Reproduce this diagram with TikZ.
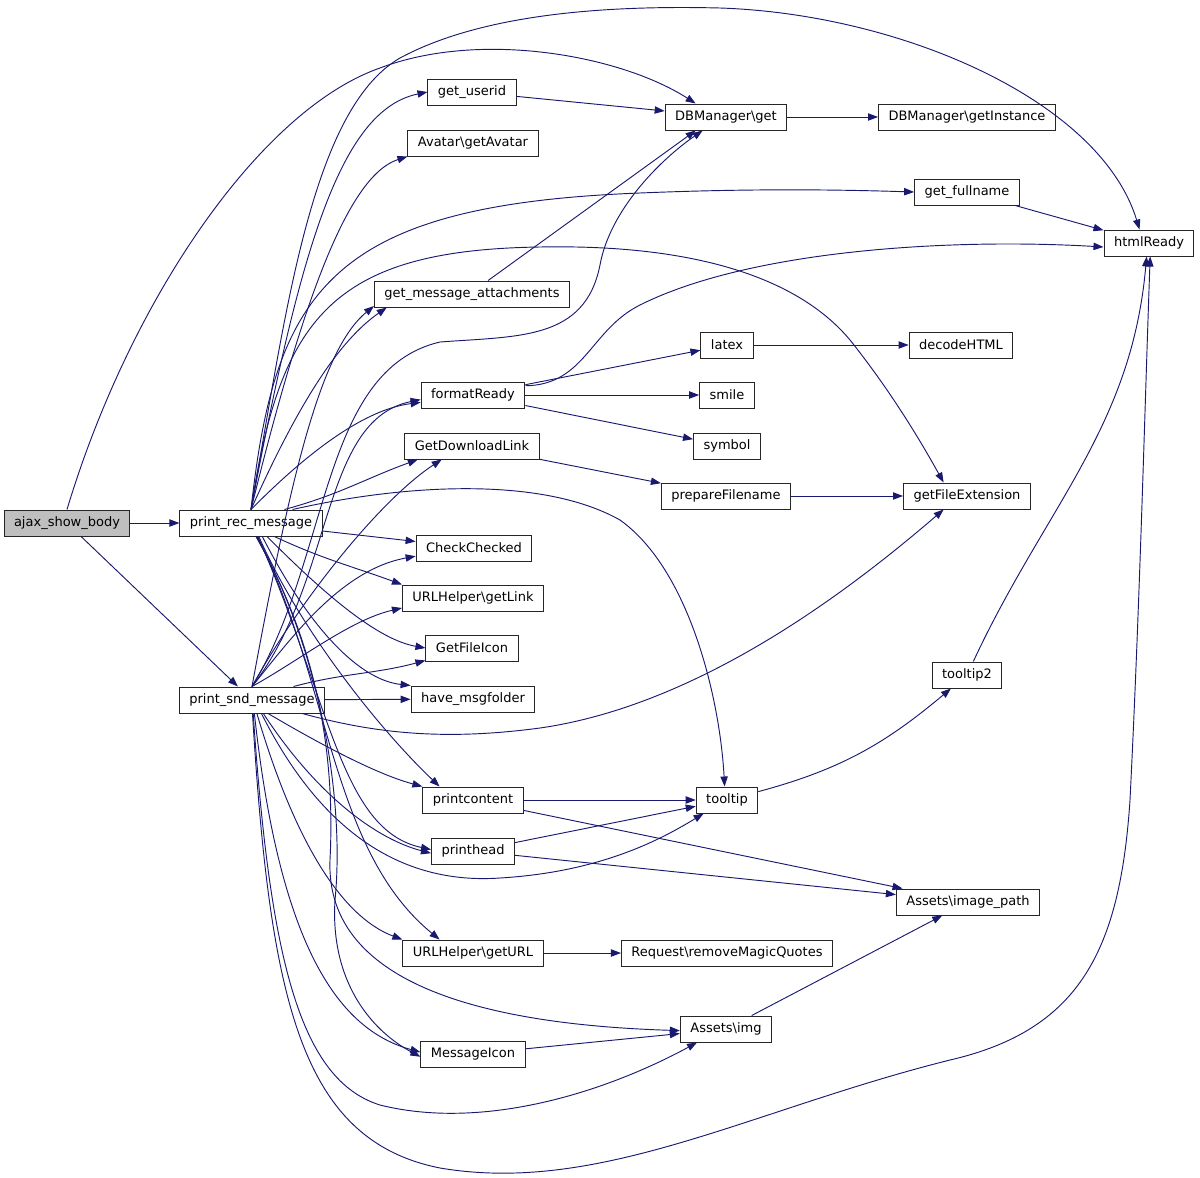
\documentclass[tikz,border=0pt]{standalone}
\usepackage{fontspec}
\setmainfont{DejaVu Sans}
\usetikzlibrary{arrows.meta}
\definecolor{callblue}{RGB}{25,25,112}
\tikzset{func/.style = {shape=rectangle,draw=black!85,line width=0.75pt,minimum height=19.5pt,inner xsep=7.5pt,inner ysep=0pt,font=\fontsize{9.75}{11}\selectfont}}
\tikzset{call/.style = {-{Triangle[length=7.5pt,width=5.5pt]},color=callblue,line width=0.7pt}}

\begin{document}
\begin{tikzpicture}[x=0.75pt,y=-0.75pt]
          \useasboundingbox (0,0) rectangle (1200,1178);

          \node[func,fill=gray!50] (ajax) at (67,523) {ajax\_show\_body};
          \node[func] (rec) at (251,523) {print\_rec\_message};
          \node[func] (snd) at (252,700) {print\_snd\_message};

          \node[func] (userid) at (472,92) {get\_userid};
          \node[func] (avatar) at (473,143) {Avatar\textbackslash getAvatar};
          \node[func] (attach) at (472,294) {get\_message\_attachments};
          \node[func] (format) at (473,395) {formatReady};
          \node[func] (dllink) at (472,446) {GetDownloadLink};
          \node[func] (checked) at (474,548) {CheckChecked};
          \node[func] (getlink) at (473,598) {URLHelper\textbackslash getLink};
          \node[func] (fileicon) at (472,648) {GetFileIcon};
          \node[func] (msgfolder) at (473,699) {have\_msgfolder};
          \node[func] (content) at (473,800) {printcontent};
          \node[func] (head) at (473,851) {printhead};
          \node[func] (geturl) at (473,953) {URLHelper\textbackslash getURL};
          \node[func] (msgicon) at (473,1054) {MessageIcon};

          \node[func] (dbget) at (726,117) {DBManager\textbackslash get};
          \node[func] (latex) at (727,345) {latex};
          \node[func] (smile) at (727,395) {smile};
          \node[func] (symbol) at (727,446) {symbol};
          \node[func] (prepfn) at (726,496) {prepareFilename};
          \node[func] (tooltip) at (727,800) {tooltip};
          \node[func] (magicq) at (727,953) {Request\textbackslash removeMagicQuotes};
          \node[func] (img) at (726,1029) {Assets\textbackslash img};

          \node[func] (dbinst) at (967,117) {DBManager\textbackslash getInstance};
          \node[func] (fullname) at (967,192) {get\_fullname};
          \node[func] (decode) at (961,345) {decodeHTML};
          \node[func] (fileext) at (967,496) {getFileExtension};
          \node[func] (tooltiptwo) at (967,675) {tooltip2};
          \node[func] (imgpath) at (968,902) {Assets\textbackslash image\_path};
          \node[func] (html) at (1149,243) {htmlReady};

          % ajax_show_body
          \draw[call] (ajax) to (rec);
          \draw[call] (ajax) to (snd);
          \draw[call] (ajax.north) .. controls (130,300) and (260,110) .. (380,68) .. controls (480,30) and (620,55) .. (dbget.156);

          % print_rec_message
          \draw[call] (rec.north) .. controls (285,320) and (310,110) .. (400,58) .. controls (480,15) and (600,5) .. (720,8) .. controls (900,14) and (1100,100) .. (html.125);
          \draw[call] (rec.north) .. controls (300,250) and (340,110) .. (userid.west);
          \draw[call] (rec.north) .. controls (305,290) and (350,175) .. (avatar.south west);
          \draw[call] (rec.north) .. controls (275,290) and (330,205) .. (640,193) .. controls (760,188) and (850,190) .. (fullname.west);
          \draw[call] (rec.north) .. controls (280,320) and (330,250) .. (540,247) .. controls (700,244) and (800,280) .. (850,340) .. controls (890,390) and (920,440) .. (fileext.150);
          \draw[call] (rec.north) .. controls (300,400) and (340,340) .. (attach.189);
          \draw[call] (rec.north) .. controls (300,460) and (360,410) .. (format.188);
          \draw[call] (rec.22) to[out=15,in=200] (dllink.194);
          \draw[call] (rec.18) .. controls (400,485) and (540,475) .. (620,520) .. controls (690,570) and (720,700) .. (tooltip.100);
          \draw[call] (rec) to (checked);
          \draw[call] (rec.-30) to[out=-25,in=160] (getlink.north west);
          \draw[call] (rec.-40) .. controls (330,600) and (380,640) .. (fileicon.west);
          \draw[call] (rec.-50) .. controls (310,630) and (360,680) .. (msgfolder.north west);
          \draw[call] (rec.-60) .. controls (300,630) and (380,730) .. (content.158);
          \draw[call] (rec.-63) .. controls (330,700) and (340,830) .. (head.178);
          \draw[call] (rec.-66) .. controls (330,680) and (330,850) .. (geturl.158);
          \draw[call] (rec.-68) .. controls (320,650) and (345,800) .. (335,900) .. controls (330,980) and (370,1030) .. (msgicon.183);
          \draw[call] (rec.-70) .. controls (320,650) and (335,760) .. (330,860) .. controls (325,990) and (500,1025) .. (img.182);

          % print_snd_message
          \draw[call] (snd.north) .. controls (290,480) and (320,350) .. (attach.187);
          \draw[call] (snd.north) .. controls (330,560) and (320,370) .. (440,342) .. controls (520,336) and (585,340) .. (600,265) .. controls (610,210) and (660,160) .. (dbget.210);
          \draw[call] (snd.north) .. controls (335,580) and (320,420) .. (format.185);
          \draw[call] (snd.north) .. controls (300,600) and (380,500) .. (dllink.204);
          \draw[call] (snd.north) .. controls (290,640) and (340,570) .. (checked.188);
          \draw[call] (snd.north) .. controls (300,660) and (350,620) .. (getlink.188);
          \draw[call] (snd.18) to[out=15,in=195] (fileicon.195);
          \draw[call] (snd) to (msgfolder);
          \draw[call] (snd.-15) .. controls (380,735) and (450,740) .. (540,728) .. controls (700,705) and (850,590) .. (fileext.210);
          \draw[call] (snd.-40) .. controls (330,750) and (380,775) .. (content.north west);
          \draw[call] (snd.-50) .. controls (320,800) and (380,840) .. (head.183);
          \draw[call] (snd.-55) .. controls (320,830) and (400,885) .. (500,878) .. controls (600,872) and (660,840) .. (tooltip.210);
          \draw[call] (snd.-70) .. controls (300,860) and (350,920) .. (geturl.north west);
          \draw[call] (snd.-80) .. controls (280,950) and (340,1030) .. (msgicon.178);
          \draw[call] (snd.-85) .. controls (270,960) and (300,1080) .. (380,1105) .. controls (480,1130) and (600,1095) .. (img.205);
          \draw[call] (snd.-88) .. controls (270,1000) and (300,1140) .. (440,1168) .. controls (600,1195) and (750,1110) .. (950,1060) .. controls (1080,1030) and (1120,950) .. (1130,800) .. controls (1140,600) and (1145,400) .. (html.-85);

          % second level
          \draw[call] (userid) to (dbget);
          \draw[call] (attach.40) to (dbget.204);
          \draw[call] (dbget) to (dbinst);
          \draw[call] (fullname) to (html);
          \draw[call] (format.10) .. controls (585,385) and (590,330) .. (640,305) .. controls (750,250) and (950,238) .. (html.185);
          \draw[call] (format) to (latex);
          \draw[call] (format) to (smile);
          \draw[call] (format) to (symbol);
          \draw[call] (latex) to (decode);
          \draw[call] (dllink) to (prepfn);
          \draw[call] (prepfn) to (fileext);
          \draw[call] (content) to (tooltip);
          \draw[call] (content) to (imgpath);
          \draw[call] (head) to (tooltip);
          \draw[call] (head) to (imgpath);
          \draw[call] (geturl) to (magicq);
          \draw[call] (msgicon) to (img);
          \draw[call] (img) to (imgpath);
          \draw[call] (tooltip) to[out=15,in=220] (tooltiptwo);
          \draw[call] (tooltiptwo) to[out=65,in=-95] (html.-100);
        \end{tikzpicture}
\end{document}
